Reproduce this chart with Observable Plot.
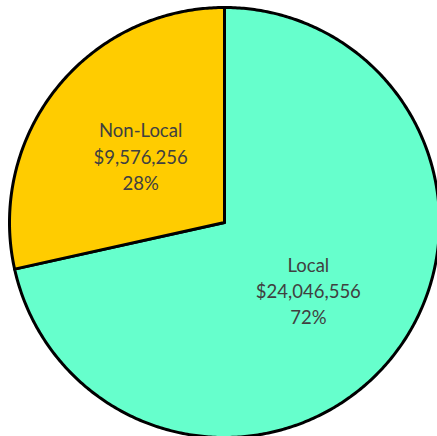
<!DOCTYPE html>
<html><head><meta charset="utf-8">
<script src="https://cdn.jsdelivr.net/npm/d3@7"></script>
<script src="https://cdn.jsdelivr.net/npm/@observablehq/plot@0.6"></script>
<style>body{margin:0;background:#fff}</style>
</head><body><div id="chart"></div>
<script>
const categories = ["Local", "Non-Local"];
const values = [24046556, 9576256];
const colors = ["#66FFCC", "#FFCC00"];

const total = d3.sum(values);
const pie = d3.pie().sort(null).value(d => d.value);
const arcs = pie(categories.map((c, i) => ({name: c, value: values[i], color: colors[i]})));

// polygon points in unit coords (angle clockwise from 12 o'clock)
const pts = [];
arcs.forEach(a => {
  const n = Math.max(8, Math.ceil((a.endAngle - a.startAngle) / 0.01));
  pts.push({name: a.data.name, color: a.data.color, x: 0, y: 0});
  for (let k = 0; k <= n; k++) {
    const t = a.startAngle + (a.endAngle - a.startAngle) * k / n;
    pts.push({name: a.data.name, color: a.data.color, x: Math.sin(t), y: Math.cos(t)});
  }
  pts.push({name: a.data.name, color: a.data.color, x: 0, y: 0});
});

const labels = arcs.map(a => {
  const m = (a.startAngle + a.endAngle) / 2;
  return {
    x: 0.5 * Math.sin(m), y: 0.5 * Math.cos(m),
    text: `${a.data.name}\n$${d3.format(",")(a.data.value)}\n${Math.round(a.data.value / total * 100)}%`
  };
});

const chart = Plot.plot({
  width: 437, height: 436,
  x: {domain: [-1, 1], range: [9, 439], axis: null},
  y: {domain: [-1, 1], range: [437, 7], axis: null},
  marks: [
    Plot.line(pts, {x: "x", y: "y", z: "name", fill: "color", stroke: "#000", strokeWidth: 3, strokeLinejoin: "round", curve: "linear"}),
    Plot.text(labels, {x: "x", y: "y", text: "text", fill: "#404040", fontSize: 18.5, lineHeight: 1.42, fontFamily: "Lato"})
  ]
});
chart.style.overflow = "visible";
document.getElementById("chart").append(chart);
</script>
</body></html>
